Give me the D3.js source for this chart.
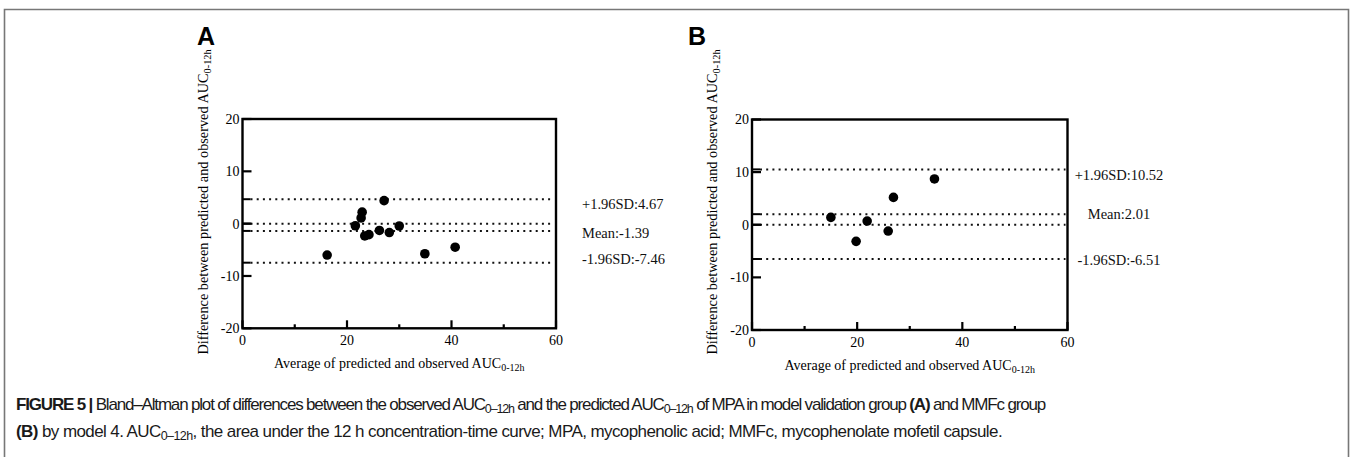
<!DOCTYPE html>
<html><head><meta charset="utf-8">
<script src="https://cdn.jsdelivr.net/npm/d3@7"></script>
<style>body{margin:0;background:#fff} svg{display:block}</style>
</head><body><svg id="c" width="1352" height="457"></svg>
<script>
// ---- data ----
const xTicksMajor = [0, 20, 40, 60];
const xTicksMinor = [10, 30, 50];
const yTicks = [-20, -10, 0, 10, 20];

const avgA  = [16.2, 21.6, 22.7, 22.9, 23.4, 24.2, 26.2, 27.1, 28.1, 30.0, 34.9, 40.7];
const diffA = [-6.0, -0.4, 1.1, 2.2, -2.35, -2.1, -1.3, 4.4, -1.7, -0.45, -5.75, -4.5];
const limitsA = [4.67, 0, -1.39, -7.46];
const labelsA = ["+1.96SD:4.67", "Mean:-1.39", "-1.96SD:-7.46"];
const labelPosA = [3.8, -1.75, -6.7];

const avgB  = [15.0, 19.8, 21.9, 25.9, 26.9, 34.7];
const diffB = [1.4, -3.15, 0.7, -1.2, 5.2, 8.7];
const limitsB = [10.52, 2.01, 0, -6.51];
const labelsB = ["+1.96SD:10.52", "Mean:2.01", "-1.96SD:-6.51"];
const labelPosB = [9.4, 2.0, -6.75];

const svg = d3.select("#c");
const serif = "'Liberation Serif','Times New Roman',serif";
const sans = "'Liberation Sans',Arial,sans-serif";

// outer frame
svg.append("path").attr("d","M4.5,470 V9.5 H1348.5 V470")
  .attr("fill","none").attr("stroke","#777").attr("stroke-width",1.6);

function panel(cfg){
  const x = d3.scaleLinear().domain([0,60]).range(cfg.xr);
  const y = d3.scaleLinear().domain([-20,20]).range(cfg.yr);
  const g = svg.append("g");
  const fs = 14;

  // dotted lines
  g.selectAll(".lim").data(cfg.limits).enter().append("line")
    .attr("x1", x(0)+8).attr("x2", x(60)-2)
    .attr("y1", d=>y(d)).attr("y2", d=>y(d))
    .attr("stroke","#111").attr("stroke-width",2)
    .attr("stroke-dasharray","2,4.2");

  // ticks at limits (inward)
  g.selectAll(".limt").data(cfg.limits).enter().append("line")
    .attr("x1", x(0)).attr("x2", x(0)+8)
    .attr("y1", d=>y(d)).attr("y2", d=>y(d))
    .attr("stroke","#000").attr("stroke-width",2);

  // y axis ticks (inward)
  g.selectAll(".yt").data(yTicks).enter().append("line")
    .attr("x1", x(0)).attr("x2", x(0)+9)
    .attr("y1", d=>y(d)).attr("y2", d=>y(d))
    .attr("stroke","#000").attr("stroke-width",2.2);
  g.selectAll(".yl").data(yTicks).enter().append("text")
    .attr("x", x(0)-3).attr("y", d=>y(d)).attr("dy","0.35em")
    .attr("text-anchor","end").attr("font-family",serif).attr("font-size",fs)
    .text(d=>d);

  // x ticks
  g.selectAll(".xt").data(xTicksMajor).enter().append("line")
    .attr("x1", d=>x(d)).attr("x2", d=>x(d))
    .attr("y1", y(-20)).attr("y2", y(-20)-8)
    .attr("stroke","#000").attr("stroke-width",2.2);
  g.selectAll(".xtm").data(xTicksMinor).enter().append("line")
    .attr("x1", d=>x(d)).attr("x2", d=>x(d))
    .attr("y1", y(-20)).attr("y2", y(-20)-4)
    .attr("stroke","#000").attr("stroke-width",2.2);
  g.selectAll(".xl").data(xTicksMajor).enter().append("text")
    .attr("x", d=>x(d)).attr("y", y(-20)+17)
    .attr("text-anchor","middle").attr("font-family",serif).attr("font-size",fs)
    .text(d=>d);

  // frame
  g.append("rect").attr("x",x(0)).attr("y",y(20))
    .attr("width",x(60)-x(0)).attr("height",y(-20)-y(20))
    .attr("fill","none").attr("stroke","#000").attr("stroke-width",2.4);

  // points
  g.selectAll(".pt").data(cfg.avg).enter().append("circle")
    .attr("cx", d=>x(d)).attr("cy", (d,i)=>y(cfg.diff[i])).attr("r",4.8)
    .attr("fill","#000");

  // limit labels
  g.selectAll(".ll").data(cfg.labels).enter().append("text")
    .attr("x", cfg.labX).attr("y", (d,i)=>y(cfg.labPos[i])).attr("dy","0.35em")
    .attr("text-anchor", cfg.labAnchor).attr("font-family",serif).attr("font-size",14.5)
    .attr("fill","#111").text(d=>d);

  // x label
  const xl = g.append("text").attr("x",(x(0)+x(60))/2).attr("y", y(-20)+40)
    .attr("text-anchor","middle").attr("font-family",serif).attr("font-size",fs);
  xl.append("tspan").text("Average of predicted and observed AUC");
  xl.append("tspan").attr("font-size",10).attr("dy",3).text("0-12h");

  // y label
  const yl = g.append("text")
    .attr("transform",`translate(${cfg.ylx},${cfg.yly}) rotate(-90)`)
    .attr("text-anchor","middle").attr("font-family",serif).attr("font-size",14.3);
  yl.append("tspan").text("Difference between predicted and observed AUC");
  yl.append("tspan").attr("font-size",10.3).attr("dy",3).text("0-12h");

  // panel letter
  g.append("text").attr("x",cfg.letX).attr("y",45)
    .attr("font-family",sans).attr("font-weight","bold").attr("font-size",25)
    .text(cfg.letter);
}

panel({xr:[242.5,556], yr:[328.3,119], avg:avgA, diff:diffA, limits:limitsA,
  labels:labelsA, labPos:labelPosA, labX:582, labAnchor:"start",
  ylx:208, yly:202, letX:197, letter:"A"});
panel({xr:[752,1067.5], yr:[330,119.5], avg:avgB, diff:diffB, limits:limitsB,
  labels:labelsB, labPos:labelPosB, labX:1119, labAnchor:"middle",
  ylx:717, yly:202, letX:688, letter:"B"});

// caption
function fitWidth(t, target){
  const n = t.text().length;
  const w = t.node().getComputedTextLength();
  t.attr("letter-spacing", ((target - w) / n).toFixed(3));
}
const cap1 = svg.append("text").attr("x",16).attr("y",410)
  .attr("font-family",sans).attr("font-size",17).attr("fill","#1a1a1a");
cap1.append("tspan").attr("font-weight","bold").text("FIGURE 5 | ");
cap1.append("tspan").text("Bland–Altman plot of differences between the observed AUC");
cap1.append("tspan").attr("font-size",12.5).attr("dy",3).text("0–12h");
cap1.append("tspan").attr("dy",-3).text(" and the predicted AUC");
cap1.append("tspan").attr("font-size",12.5).attr("dy",3).text("0–12h");
cap1.append("tspan").attr("dy",-3).text(" of MPA in model validation group ");
cap1.append("tspan").attr("font-weight","bold").text("(A)");
cap1.append("tspan").text(" and MMFc group");
fitWidth(cap1, 1029);

const cap2 = svg.append("text").attr("x",16).attr("y",437)
  .attr("font-family",sans).attr("font-size",17).attr("fill","#1a1a1a");
cap2.append("tspan").attr("font-weight","bold").text("(B)");
cap2.append("tspan").text(" by model 4. AUC");
cap2.append("tspan").attr("font-size",12.5).attr("dy",3).text("0–12h");
cap2.append("tspan").attr("dy",-3).text(", the area under the 12 h concentration-time curve; MPA, mycophenolic acid; MMFc, mycophenolate mofetil capsule.");
fitWidth(cap2, 986);
</script></body></html>
